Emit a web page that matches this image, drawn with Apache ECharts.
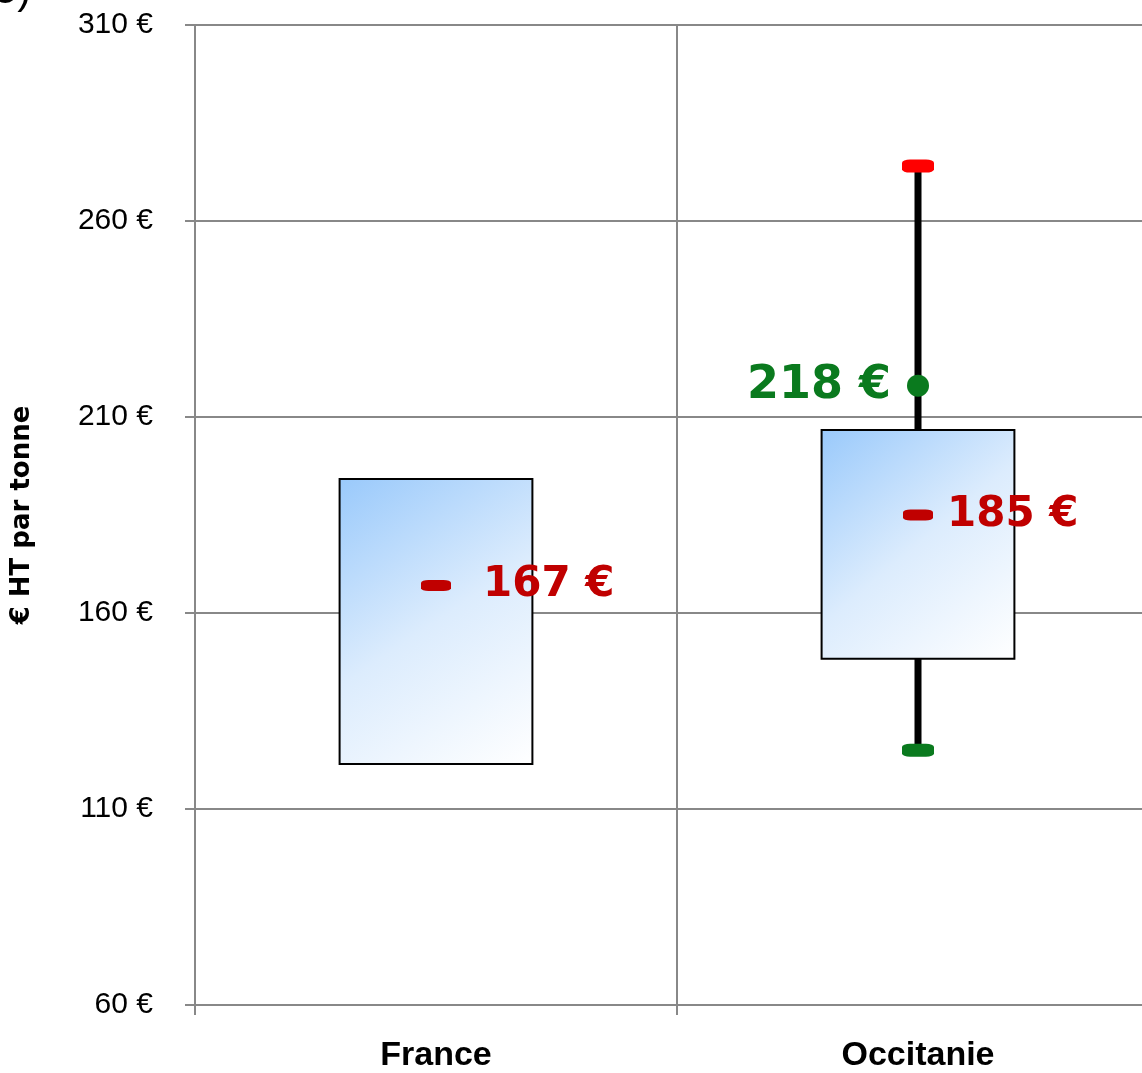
<!DOCTYPE html>
<html>
<head>
<meta charset="utf-8">
<script src="https://cdn.jsdelivr.net/npm/echarts@6/dist/echarts.min.js"></script>
<style>
html, body { margin: 0; padding: 0; background: #fff; }
#main { width: 1142px; height: 1073px; }
</style>
</head>
<body>
<div id="main"></div>
<script>
// données
var categories = ['France', 'Occitanie'];
var boxLow = [121.5, 148.3];
var boxHigh = [194.2, 206.7];
var medians = [167, 185];
var occMin = 125;
var occMax = 274;
var occMoyenne = 218;

var chart = echarts.init(document.getElementById('main'));

var boxData = categories.map(function (c, i) {
    return [i, boxLow[i], boxHigh[i]];
});

chart.setOption({
    animation: false,
    grid: { left: 195, top: 25, bottom: 68, right: -17, outerBoundsMode: 'none', containLabel: false },
    graphic: [{
        type: 'text',
        left: -6,
        top: -30,
        style: { text: '5)', font: '42px "Liberation Sans"', fill: '#000' }
    }],
    xAxis: {
        type: 'category',
        data: categories,
        axisLine: { lineStyle: { color: '#888', width: 2 } },
        axisTick: { show: true, length: 10, lineStyle: { color: '#888', width: 2 } },
        splitLine: { show: true, lineStyle: { color: '#888', width: 2 } },
        axisLabel: {
            color: '#000',
            fontFamily: 'Liberation Sans',
            fontWeight: 'bold',
            fontSize: 34,
            margin: 34
        }
    },
    yAxis: {
        type: 'value',
        min: 60,
        max: 310,
        interval: 50,
        name: '€ HT par tonne',
        nameLocation: 'middle',
        nameGap: 160,
        nameTextStyle: {
            color: '#000',
            fontFamily: 'DejaVu Sans',
            fontWeight: 'bold',
            fontSize: 26
        },
        axisLine: { show: true, lineStyle: { color: '#888', width: 2 } },
        axisTick: { show: true, length: 10, lineStyle: { color: '#888', width: 2 } },
        splitLine: { show: true, lineStyle: { color: '#888', width: 2 } },
        axisLabel: {
            formatter: '{value} €',
            color: '#000',
            fontFamily: 'Liberation Sans',
            fontSize: 30,
            margin: 42
        }
    },
    series: [{
        // moustache Occitanie
        type: 'line',
        z: 1,
        symbol: 'none',
        lineStyle: { color: '#000', width: 7 },
        data: [['Occitanie', occMin], ['Occitanie', occMax]]
    }, {
        type: 'custom',
        z: 2,
        data: boxData,
        encode: { x: 0, y: [1, 2] },
        renderItem: function (params, api) {
            var idx = api.value(0);
            var p1 = api.coord([idx, api.value(2)]);
            var p2 = api.coord([idx, api.value(1)]);
            var w = api.size([1, 0])[0] * 0.4;
            return {
                type: 'rect',
                shape: { x: p1[0] - w / 2, y: p1[1], width: w, height: p2[1] - p1[1] },
                style: {
                    fill: new echarts.graphic.LinearGradient(0, 0, 1, 1, [
                        { offset: 0, color: '#99c9fb' },
                        { offset: 0.5, color: '#dcecfd' },
                        { offset: 1, color: '#ffffff' }
                    ]),
                    stroke: '#000',
                    lineWidth: 2
                }
            };
        }
    }, {
        // médianes
        type: 'scatter',
        z: 3,
        symbol: 'roundRect',
        symbolSize: [30, 11],
        itemStyle: { color: '#c00000', opacity: 1 },
        label: {
            show: true,
            position: 'right',
            color: '#c00000',
            fontFamily: 'DejaVu Sans',
            fontWeight: 'bold',
            fontSize: 42,
            formatter: function (p) { return p.value[1] + ' €'; }
        },
        data: [
            { value: [0, medians[0]], label: { distance: 32 } },
            { value: [1, medians[1]], label: { distance: 14 } }
        ]
    }, {
        // min / max / moyenne
        type: 'scatter',
        z: 4,
        itemStyle: { opacity: 1 },
        data: [
            { value: [1, occMax], symbol: 'roundRect', symbolSize: [32, 13], itemStyle: { color: '#ff0000' } },
            { value: [1, occMin], symbol: 'roundRect', symbolSize: [32, 13], itemStyle: { color: '#0a7a1e' } },
            {
                value: [1, occMoyenne], symbol: 'circle', symbolSize: 22, itemStyle: { color: '#0a7a1e' },
                label: {
                    show: true,
                    position: 'left',
                    distance: 16,
                    color: '#0a7a1e',
                    fontFamily: 'DejaVu Sans',
                    fontWeight: 'bold',
                    fontSize: 46,
                    formatter: occMoyenne + ' €'
                }
            }
        ]
    }]
});
</script>
</body>
</html>
